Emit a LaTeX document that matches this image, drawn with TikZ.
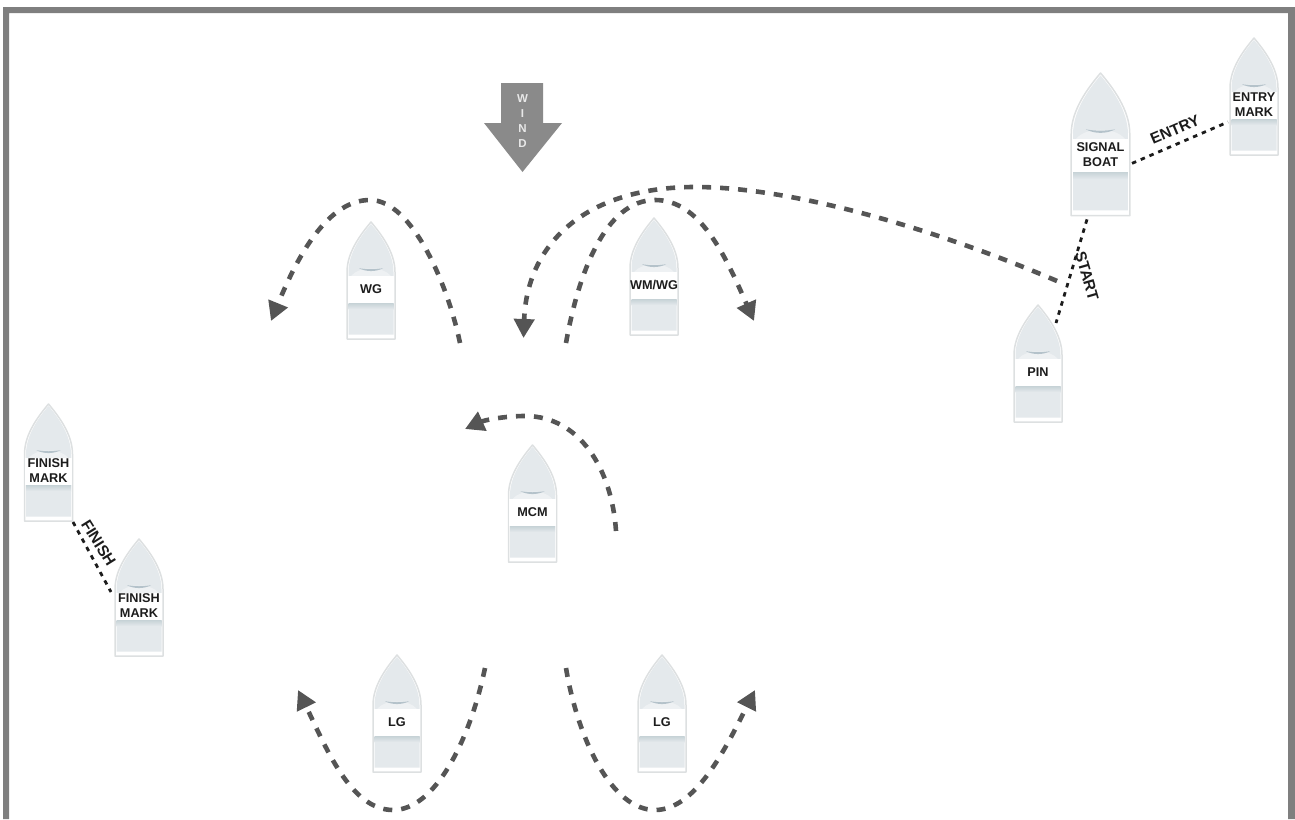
\documentclass[tikz,border=0pt]{standalone}
\usepackage{fontspec}
\setmainfont{Liberation Sans}
\usetikzlibrary{arrows.meta,calc}
\definecolor{framegray}{HTML}{7F7F7F}
\definecolor{windgray}{HTML}{8A8A8A}
\definecolor{windtext}{HTML}{E8E8E8}
\definecolor{hullfill}{HTML}{E4E9EC}
\definecolor{hullline}{HTML}{DDE0E1}
\definecolor{bandtop}{HTML}{C6D2D6}
\definecolor{logocol}{HTML}{B4C2CA}
\definecolor{logoglow}{HTML}{EEF1F3}
\definecolor{arcgray}{HTML}{555555}
\definecolor{linedark}{HTML}{1C1C1C}
\tikzset{
  hullbox/.style={inner sep=0pt,outer sep=0pt},
  boatlabel/.style={inner sep=0pt,align=center,text=linedark,font=\fontsize{12.7}{15}\selectfont\bfseries},
  courselabel/.style={inner sep=0pt,text=linedark,font=\fontsize{15.5}{16}\selectfont\bfseries},
  arcline/.style={draw=arcgray,line width=4.6pt,dash pattern=on 9pt off 9pt,
    -{Triangle[length=19pt,width=20pt,fill=arcgray]}},
  courseline/.style={draw=linedark,line width=2.8pt,dash pattern=on 4.5pt off 5pt}
}
\newcommand{\boatpic}[5]{%
  \begin{scope}[shift={(#2,#3)},scale=#4]
    \filldraw[fill=white,draw=hullline,line width=1.5pt,line join=round]
      (-24,117) -- (-24,50) .. controls (-24,30) and (-10,12) .. (0,0)
      .. controls (10,12) and (24,30) .. (24,50) -- (24,117) -- cycle;
    \fill[hullfill] (-22.5,112.5) -- (-22.5,50) .. controls (-22.5,31) and (-9.5,13) .. (0,2)
      .. controls (9.5,13) and (22.5,31) .. (22.5,50) -- (22.5,112.5) -- cycle;
    \fill[logoglow] (-20,54) .. controls (-12,44) and (12,44) .. (20,54) -- cycle;
    \shade[top color=bandtop,bottom color=hullfill] (-22.5,81) rectangle (22.5,87);
    \fill[white] (-23.2,54) rectangle (23.2,81);
    \fill[logocol] (-12,46.2) .. controls (-4,47.6) and (4,47.6) .. (12,46.2)
      .. controls (5,50) and (-5,50) .. (-12,46.2) -- cycle;
    \node[hullbox,minimum width=#4*48pt,minimum height=#4*117pt] (#1) at (0,58.5) {};
    \node[boatlabel] (#1-label) at (0,67) {#5};
  \end{scope}}
\begin{document}
\begin{tikzpicture}[x=1pt,y=-1pt]
\useasboundingbox (0,0) rectangle (1295,819);
% frame
\fill[framegray] (3,819) -- (3,7) -- (1295,7) -- (1295,819) -- (1288,819)
  -- (1288,13) -- (9,13) -- (9,819) -- cycle;
% wind arrow
\fill[windgray] (501,83) -- (543,83) -- (543,123) -- (562,123) -- (522.5,172)
  -- (484,123) -- (501,123) -- cycle;
\node[inner sep=0pt,align=center,text=windtext,font=\fontsize{11.5}{14.8}\selectfont\bfseries] (wind) at (522.5,121) {W\\I\\N\\D};
% boats
\boatpic{wg}{371}{222}{1}{WG}
\boatpic{wmwg}{654}{218}{1}{WM/WG}
\boatpic{mcm}{532.5}{445}{1}{MCM}
\boatpic{lgl}{397}{655}{1}{LG}
\boatpic{lgr}{662}{655}{1}{LG}
\boatpic{pin}{1038}{305}{1}{PIN}
\boatpic{entry}{1254}{38}{1}{ENTRY\\MARK}
\boatpic{signal}{1100.5}{73}{1.22}{}
\node[boatlabel] (signaltext) at (1100.5,155) {SIGNAL\\BOAT};
\boatpic{finA}{48.5}{404}{1}{FINISH\\MARK}
\boatpic{finB}{139}{539}{1}{FINISH\\MARK}
% course lines
\draw[courseline] ([shift={(31.5,19)}]signal.center) -- ([shift={(-26,25.5)}]entry.center);
\draw[courseline] ([shift={(-13.5,75)}]signal.center) -- ([shift={(18,-40.5)}]pin.center);
\draw[courseline] ([shift={(24.5,59.5)}]finA.center) -- ([shift={(-28,-5.5)}]finB.center);
\node[courselabel,rotate=23] (entrytxt) at (1175,129.5) {ENTRY};
\node[courselabel,rotate=-74] (starttxt) at (1087,276) {START};
\node[courselabel,rotate=-58] (finishtxt) at (98.5,543) {FINISH};
% manoeuvre arcs
\coordinate (a1s) at (460,343); \coordinate (a1e) at (271,321);
\coordinate (a2s) at (566,343); \coordinate (a2e) at (754,321);
\coordinate (a3s) at (1057,281); \coordinate (a3e) at (523.5,338);
\coordinate (a4s) at (616,531); \coordinate (a4e) at (465,429);
\coordinate (a5s) at (485,668); \coordinate (a5e) at (298,690);
\coordinate (a6s) at (566,668); \coordinate (a6e) at (755,690);
\draw[arcline] (a1s) .. controls (448,285) and (412,200) .. (370,200)
  .. controls (330,200) and (300,250) .. (a1e);
\draw[arcline] (a2s) .. controls (578,275) and (605,200) .. (655,200)
  .. controls (700,200) and (725,255) .. (a2e);
\draw[arcline] (a3s) .. controls (950,235) and (800,187) .. (695,187)
  .. controls (590,187) and (527,240) .. (a3e);
\draw[arcline] (a4s) .. controls (612,470) and (580,416) .. (525,416)
  .. controls (505,416) and (485,420) .. (a4e);
\draw[arcline] (a5s) .. controls (470,740) and (435,810) .. (393,810)
  .. controls (350,810) and (325,745) .. (a5e);
\draw[arcline] (a6s) .. controls (578,740) and (612,810) .. (655,810)
  .. controls (695,810) and (725,750) .. (a6e);
\end{tikzpicture}
\end{document}
